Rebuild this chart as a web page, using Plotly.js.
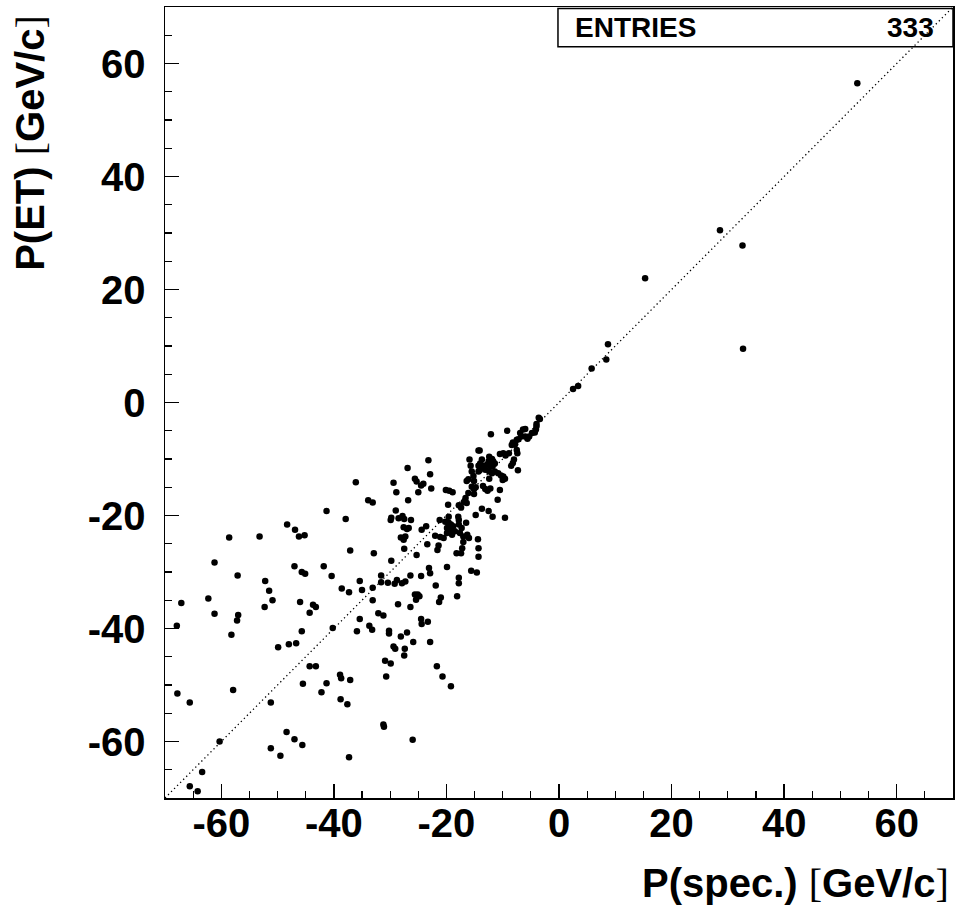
<!DOCTYPE html>
<html>
<head>
<meta charset="utf-8">
<script src="https://cdn.plot.ly/plotly-3.0.1.min.js"></script>
<style>html,body{margin:0;padding:0;background:#fff;}#chart{width:959px;height:913px;}</style>
</head>
<body>
<div id="chart"></div>
<script>
// P(spec.) values [GeV/c]
const pSpec = [
 53.0,28.6,32.6,15.3,32.7,8.7,8.4,5.8,3.4,2.5,
 -36.1,-41.3,-37.9,-48.3,-46.9,-46.2,-45.2,-58.6,-53.2,-37.1,-61.2,-47.0,-45.7,-45.1,-41.8,-40.4,-57.1,-52.2,-51.5,-50.9,-52.3,-62.3,-67.1,-61.2,-57.0,-57.2,-67.9,-58.2,-46.0,-43.7,-43.2,-44.3,-45.7,-38.6,-37.3,-35.4,-35.4,-35.9,-40.2,-49.9,-48.0,-46.7,
 -67.8,-65.6,-57.9,-44.3,-43.2,-45.5,-41.3,-42.2,-38.9,-38.7,-37.1,-38.8,-37.6,-51.2,-48.4,-47.0,-45.6,-51.2,-49.5,-37.3,-60.3,-63.4,-65.6,-64.2,
 -31.6,-35.0,-33.1,-31.6,-30.4,-29.2,-28.8,-27.9,-27.3,-26.4,-24.5,-22.9,-17.8,-17.8,-18.1,-21.9,-21.0,-21.3,-25.6,-25.1,-24.8,-25.4,-26.4,-28.6,-33.1,-32.1,-31.2,-33.7,-33.2,-30.2,-30.2,-28.1,-27.0,-24.5,-24.4,-23.3,-25.9,-22.9,-29.4,-29.1,-27.4,-27.5,-30.9,-29.9,-30.7,-21.7,-20.7,-19.2,-31.2,-31.1,-26.0,-15.6,-14.6,
 -23.2,-26.9,-22.9,-25.6,-25.3,-24.5,-24.1,-29.4,-28.9,-25.0,-22.7,-26.8,-33.9,-33.1,-20.1,-19.5,-18.9,-19.7,-17.8,-17.4,-15.9,-15.7,-15.5,-14.3,-14.3,-14.3,-16.4,-16.1,-15.1,-15.5,-15.1,-14.8,-16.1,-16.6,-16.9,-16.4,-14.8,-29.0,-29.8,-29.9,-28.5,-27.8,-27.5,-26.3,-21.2,
 -20.2,-19.6,-19.2,-18.8,-19.9,-19.3,-18.5,-19.0,-19.9,-17.8,-17.8,-17.3,-16.5,-17.6,-17.0,-16.3,-16.0,-20.5,-21.1,-22.0,
 -24.4,-23.6,-27.6,-27.0,-26.7,-27.3,-28.1,-27.6,-27.5,-23.4,-21.4,-21.6,-17.0,-17.2,-17.4,-18.2,-14.4,-14.3,-14.3,-25.3,-32.9,-29.8,-23.1,-19.9,
 -3.6,-3.4,-4.0,-4.0,-4.1,-4.3,-4.8,-5.3,-5.6,-6.0,-6.4,-6.0,-6.9,-6.7,-7.5,-8.2,-8.4,-7.8,-7.2,-12.1,-9.2,-7.5,-7.4,-8.9,-9.5,-9.9,-10.5,-14.1,-8.0,-8.2,-8.5,-12.4,-11.9,-12.5,-11.7,-11.4,-11.8,-12.2,-12.8,-13.7,-14.0,-13.5,-14.1,-13.7,-13.1,-12.4,-11.9,-11.4,-10.8,-10.3,-9.9,-9.6,-10.0,-7.3,-12.4,-15.2,-13.5,-13.1,-12.7,-12.2,-10.5,-15.1,-10.9,-13.7,-12.5,-11.8,-9.6,-19.6,-17.9
];
// P(ET) values [GeV/c]
const pET = [
 56.5,30.5,27.8,22.0,9.5,10.3,7.6,6.0,2.9,2.4,
 -14.1,-19.2,-20.6,-21.6,-22.5,-23.7,-23.5,-23.9,-23.7,-26.2,-28.3,-29.0,-30.0,-30.3,-29.0,-30.7,-30.6,-31.6,-33.3,-35.0,-36.2,-34.7,-35.5,-37.4,-37.6,-38.6,-39.5,-41.1,-35.3,-35.8,-36.2,-37.2,-40.5,-32.9,-33.6,-31.6,-38.3,-40.5,-39.9,-43.3,-42.8,-42.6,
 -51.5,-53.1,-50.9,-46.7,-46.7,-49.8,-49.7,-51.3,-48.2,-48.8,-49.1,-52.5,-53.4,-53.1,-58.3,-59.6,-60.6,-61.2,-62.5,-62.8,-60.0,-65.4,-67.9,-68.8,
 -30.6,-33.2,-32.8,-31.8,-31.9,-32.1,-31.4,-32.0,-31.7,-30.6,-30.7,-30.2,-31.0,-32.0,-34.3,-32.4,-34.5,-35.3,-34.0,-34.0,-34.3,-34.9,-36.2,-35.7,-35.0,-37.3,-37.7,-39.5,-40.2,-40.4,-40.9,-41.4,-40.7,-38.3,-39.2,-38.8,-42.4,-42.4,-43.2,-43.6,-43.6,-44.8,-45.7,-46.2,-48.5,-46.7,-48.5,-50.2,-57.0,-57.4,-59.7,-29.8,-30.1,
 -10.2,-11.6,-12.7,-13.5,-14.0,-14.7,-14.4,-14.2,-15.9,-15.9,-15.2,-17.3,-17.3,-17.7,-15.5,-15.6,-15.9,-18.1,-18.2,-18.6,-10.1,-11.2,-12.2,-8.5,-11.2,-12.2,-13.9,-13.6,-13.9,-14.9,-15.3,-15.0,-16.0,-16.9,-17.6,-17.8,-19.9,-19.1,-20.4,-20.8,-20.5,-20.1,-20.6,-20.8,-20.8,
 -21.1,-21.3,-21.6,-21.9,-22.2,-22.5,-22.8,-23.4,-23.1,-20.8,-21.6,-22.2,-21.3,-23.1,-23.7,-23.4,-24.0,-24.0,-23.8,-23.6,
 -22.5,-21.9,-22.1,-22.4,-22.2,-23.7,-23.9,-24.3,-25.9,-25.1,-25.3,-26.1,-24.7,-25.8,-26.7,-26.7,-24.2,-25.8,-27.3,-27.0,-26.7,-28.0,-29.3,-29.1,
 -2.7,-2.9,-3.8,-4.2,-4.8,-5.3,-5.4,-6.0,-6.4,-6.0,-4.8,-4.7,-5.4,-6.0,-6.6,-7.1,-7.5,-7.4,-6.5,-5.6,-5.0,-8.4,-9.0,-9.0,-9.4,-9.0,-9.1,-8.5,-10.1,-10.7,-11.2,-9.6,-10.0,-10.4,-10.4,-10.8,-11.3,-11.3,-11.0,-10.1,-10.8,-11.2,-12.0,-11.6,-11.9,-12.2,-12.5,-12.2,-12.5,-12.9,-13.1,-13.5,-13.7,-12.0,-13.5,-13.0,-14.8,-15.3,-15.6,-15.2,-15.5,-16.2,-17.2,-18.8,-19.2,-20.2,-20.4,-20.2,-20.2
];
const axisRange = [-70, 70];
const diagX = [-70, 70];
const diagY = [-70, 70];
const tickVals = [-60, -40, -20, 0, 20, 40, 60];
const tickText = ['-60', '-40', '-20', '0', '20', '40', '60'];
const entriesLabel = 'ENTRIES';
const entriesValue = '333';
const BR = 'font-family:Liberation Serif,DejaVu Serif,serif;font-weight:normal';
const xTitle = 'P(spec.) <span style="' + BR + '">[</span>GeV/c<span style="' + BR + '">]</span>';
const yTitle = 'P(ET) <span style="' + BR + '">[</span>GeV/c<span style="' + BR + '">]</span>';

const FONT = 'Liberation Sans, Arial, Helvetica, sans-serif';

const traces = [
  {x: diagX, y: diagY, type: 'scatter', mode: 'lines',
   line: {color: '#000', width: 1.3, dash: '1.3px,3px'}, hoverinfo: 'skip', showlegend: false},
  {x: pSpec, y: pET, type: 'scatter', mode: 'markers',
   marker: {color: '#000', size: 6.5}, showlegend: false}
];

const axisCommon = {
  range: axisRange, tickmode: 'array', tickvals: tickVals, ticktext: tickText,
  ticks: 'inside', ticklen: 14, tickwidth: 1.5, tickcolor: '#000',
  showline: true, linewidth: 1.5, linecolor: '#000', mirror: true,
  showgrid: false, zeroline: false,
  minor: {tickmode: 'linear', tick0: 0, dtick: 5, ticks: 'inside', ticklen: 7, tickwidth: 1.2, tickcolor: '#000', showgrid: false},
  tickfont: {family: FONT, size: 40, color: '#000', weight: 'bold'},
  fixedrange: true
};

const layout = {
  width: 959, height: 913,
  margin: {l: 164.5, r: 5.5, t: 7.2, b: 114.8, pad: 0},
  paper_bgcolor: '#fff', plot_bgcolor: '#fff',
  xaxis: Object.assign({}, axisCommon, {ticklabelstandoff: -11}),
  yaxis: Object.assign({}, axisCommon, {ticklabelstandoff: 10}),
  shapes: [
    {type: 'rect', xref: 'paper', yref: 'paper', x0: 0.4987, x1: 1, y0: 0.9497, y1: 0.998,
     line: {color: '#000', width: 1.5}, fillcolor: 'rgba(0,0,0,0)'}
  ],
  annotations: [
    {xref: 'paper', yref: 'paper', x: 0.5175, y: 0.9738, xanchor: 'left', yanchor: 'middle',
     text: entriesLabel, showarrow: false, font: {family: FONT, size: 28, color: '#000', weight: 'bold'}},
    {xref: 'paper', yref: 'paper', x: 0.978, y: 0.9738, xanchor: 'right', yanchor: 'middle',
     text: entriesValue, showarrow: false, font: {family: FONT, size: 28, color: '#000', weight: 'bold'}},
    {xref: 'paper', yref: 'paper', x: 0.9975, y: -0.1076, xanchor: 'right', yanchor: 'middle',
     text: xTitle, showarrow: false, font: {family: FONT, size: 40, color: '#000', weight: 'bold'}},
    {xref: 'paper', yref: 'paper', x: -0.170, y: 0.9927, xanchor: 'center', yanchor: 'top', textangle: -90,
     text: yTitle, showarrow: false, font: {family: FONT, size: 40, color: '#000', weight: 'bold'}}
  ]
};

Plotly.newPlot('chart', traces, layout, {displayModeBar: false, staticPlot: true});
</script>
</body>
</html>
